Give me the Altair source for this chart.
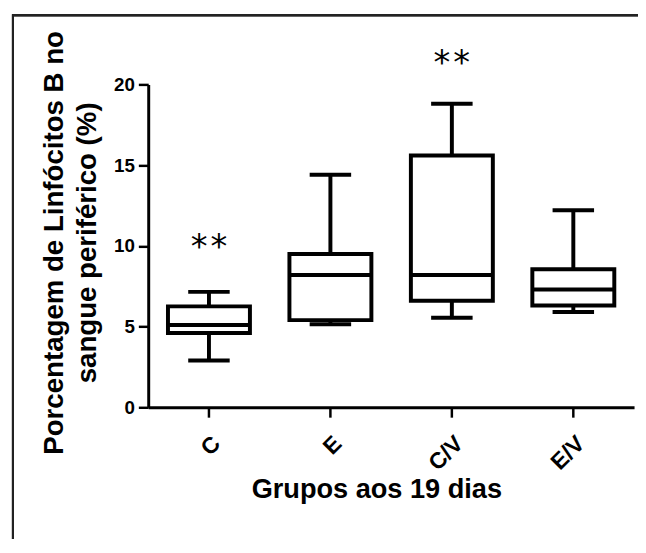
import altair as alt
import pandas as pd

groups = ["C", "E", "C/V", "E/V"]
whisker_low = [2.9, 5.15, 5.55, 5.9]
q1 = [4.6, 5.4, 6.6, 6.3]
median = [5.1, 8.2, 8.2, 7.3]
q3 = [6.25, 9.5, 15.6, 8.55]
whisker_high = [7.15, 14.4, 18.8, 12.2]

star_groups = ["C", "C/V"]
star_y = [10.2, 21.6]
star_text = ["*", "*"]

FONT = "Liberation Sans"

df = pd.DataFrame({"g": groups, "lo": whisker_low, "q1": q1, "med": median,
                   "q3": q3, "hi": whisker_high})
stars = pd.DataFrame({"g": star_groups, "y": star_y, "t": star_text})

xscale = alt.Scale(domain=groups, paddingInner=0, paddingOuter=0)
yscale = alt.Scale(domain=[0, 20], nice=False)

x = alt.X("g:N", scale=xscale, sort=groups,
          axis=alt.Axis(title="Grupos aos 19 dias", labelAngle=-45, labelFontSize=23,
                        labelPadding=15,
                        titleX=231, titleY=91, titleBaseline="alphabetic",
                        titleAnchor="start", titleAlign="center", titleFontSize=27.5))
y = alt.Y("lo:Q", scale=yscale,
          axis=alt.Axis(values=[0, 5, 10, 15, 20],
                        title=["Porcentagem de Linfócitos B no", "sangue periférico (%)"],
                        titleX=-87, titleY=160, titleBaseline="alphabetic",
                        titleAngle=-90, titleAlign="center", titleLineHeight=34,
                        titleFontSize=28))

xs = alt.X("g:N", scale=xscale, sort=groups)
base = alt.Chart(df)

whisk = base.mark_rule(color="black", strokeWidth=4).encode(x=x, y=y, y2="hi:Q")
box = base.mark_bar(size=83, fill="white", stroke="black", strokeWidth=4, opacity=1).encode(
    x=xs, y=alt.Y("q1:Q", scale=yscale), y2="q3:Q")
med = base.mark_tick(size=83, thickness=4, color="black", opacity=1).encode(
    x=xs, y=alt.Y("med:Q", scale=yscale))
cap_lo = base.mark_tick(size=42, thickness=4, color="black", opacity=1).encode(
    x=xs, y=alt.Y("lo:Q", scale=yscale))
cap_hi = base.mark_tick(size=42, thickness=4, color="black", opacity=1).encode(
    x=xs, y=alt.Y("hi:Q", scale=yscale))
star_l = alt.Chart(stars).mark_text(font="DejaVu Sans", fontSize=34, color="black",
                                    baseline="middle", dx=-10, dy=6).encode(
    x=xs, y=alt.Y("y:Q", scale=yscale), text="t:N")
star_r = alt.Chart(stars).mark_text(font="DejaVu Sans", fontSize=34, color="black",
                                    baseline="middle", dx=10, dy=6).encode(
    x=xs, y=alt.Y("y:Q", scale=yscale), text="t:N")

frame_top = alt.Chart(df).mark_rule(color="#222", strokeWidth=2).encode(
    x=alt.value(-137), x2=alt.value(520), y=alt.value(-70))
frame_left = alt.Chart(df).mark_rule(color="#222", strokeWidth=2).encode(
    x=alt.value(-137), y=alt.value(-71), y2=alt.value(500))

chart = alt.layer(frame_top, frame_left, whisk, box, med, cap_lo, cap_hi,
                  star_l, star_r).properties(
    width=492, height=327,
    autosize=alt.AutoSizeParams(type="none"),
    padding={"left": 142, "top": 74, "right": 4, "bottom": 130},
).configure_view(stroke=None).configure_axis(
    domainColor="black", domainWidth=3, tickColor="black", tickWidth=2.5, tickSize=10,
    labelFont=FONT, labelFontSize=19, labelFontWeight="bold", labelColor="black",
    labelPadding=4, titleFont=FONT, titleFontSize=26, titleFontWeight="bold",
    titleColor="black", grid=False,
)

chart.save("out.html", embed_options={"renderer": "svg", "actions": False})
